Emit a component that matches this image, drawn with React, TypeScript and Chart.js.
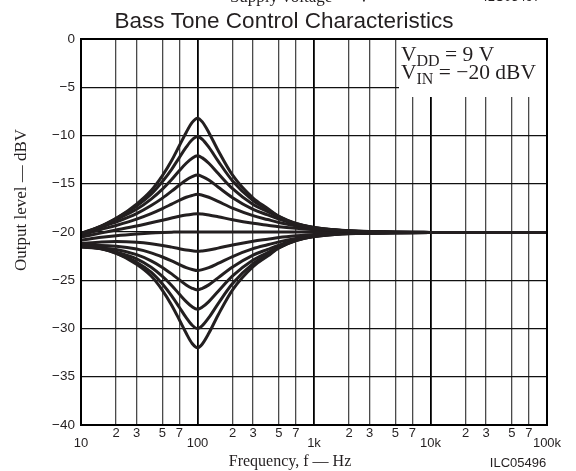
import React, { useEffect, useRef } from "react";
import { Chart, registerables } from "chart.js";

Chart.register(...registerables);

// ---- data ----
const frequencies = [10, 15, 20, 30, 40, 50, 60, 70, 80, 90, 100, 110, 125, 150, 200, 300, 400, 500, 700, 1000, 1500, 2000, 5000, 10000, 100000];

const boost12 = [-20.26, -19.39, -18.61, -17.11, -15.71, -14.16, -12.59, -11.03, -9.68, -8.64, -8.2, -8.59, -9.68, -11.53, -14.11, -16.48, -17.55, -18.4, -19.19, -19.61, -19.83, -19.93, -20.04, -20.05, -20.05];
const boost10 = [-20.19, -19.36, -18.58, -17.3, -16.07, -14.76, -13.5, -12.26, -11.21, -10.44, -10.1, -10.4, -11.21, -12.63, -14.71, -16.75, -17.67, -18.37, -19.11, -19.56, -19.8, -19.9, -20.03, -20.05, -20.05];
const boost8 = [-20.15, -19.38, -18.71, -17.65, -16.59, -15.56, -14.57, -13.63, -12.88, -12.35, -12.1, -12.32, -12.88, -13.92, -15.51, -17.14, -17.88, -18.45, -19.12, -19.54, -19.77, -19.88, -20.02, -20.04, -20.05];
const boost6 = [-20.2, -19.48, -18.96, -18.09, -17.26, -16.49, -15.77, -15.13, -14.61, -14.27, -14.1, -14.25, -14.61, -15.33, -16.44, -17.65, -18.23, -18.67, -19.19, -19.53, -19.77, -19.87, -20.01, -20.04, -20.05];
const boost4 = [-20.32, -19.73, -19.32, -18.67, -18.1, -17.58, -17.11, -16.71, -16.4, -16.21, -16.1, -16.19, -16.4, -16.83, -17.53, -18.31, -18.71, -19.01, -19.35, -19.64, -19.83, -19.91, -20.02, -20.04, -20.05];
const boost2 = [-20.53, -20.09, -19.8, -19.38, -19.04, -18.78, -18.55, -18.36, -18.23, -18.15, -18.1, -18.14, -18.23, -18.41, -18.73, -19.1, -19.3, -19.45, -19.62, -19.76, -19.87, -19.93, -20.02, -20.04, -20.05];
const flat = [-20.85, -20.55, -20.38, -20.2, -20.1, -20.05, -20.02, -20, -20, -20, -20, -20, -20, -20, -20, -20, -20, -20, -20, -20, -20.01, -20.02, -20.05, -20.05, -20.05];
const cut2 = [-21.19, -21.03, -20.99, -21.06, -21.21, -21.39, -21.57, -21.73, -21.87, -21.95, -22, -21.96, -21.87, -21.67, -21.34, -20.95, -20.74, -20.58, -20.4, -20.25, -20.16, -20.12, -20.08, -20.06, -20.05];
const cut4 = [-21.39, -21.39, -21.47, -21.77, -22.16, -22.59, -23.0, -23.38, -23.69, -23.89, -24, -23.9, -23.69, -23.26, -22.54, -21.73, -21.32, -21.02, -20.67, -20.37, -20.2, -20.13, -20.09, -20.06, -20.05];
const cut6 = [-21.51, -21.64, -21.82, -22.35, -22.99, -23.67, -24.34, -24.96, -25.48, -25.83, -26, -25.84, -25.48, -24.75, -23.62, -22.39, -21.8, -21.36, -20.83, -20.48, -20.26, -20.18, -20.09, -20.06, -20.05];
const cut8 = [-21.56, -21.73, -22.08, -22.78, -23.65, -24.6, -25.54, -26.45, -27.21, -27.75, -28, -27.78, -27.21, -26.16, -24.55, -22.9, -22.14, -21.57, -20.89, -20.47, -20.25, -20.16, -20.08, -20.06, -20.05];
const cut10 = [-21.52, -21.75, -22.2, -23.13, -24.17, -25.39, -26.61, -27.82, -28.88, -29.66, -30, -29.7, -28.88, -27.44, -25.34, -23.28, -22.35, -21.65, -20.9, -20.44, -20.22, -20.15, -20.07, -20.05, -20.05];
const cut12 = [-21.45, -21.73, -22.18, -23.34, -24.56, -26.04, -27.58, -29.12, -30.5, -31.56, -32, -31.6, -30.5, -28.62, -25.99, -23.58, -22.5, -21.63, -20.83, -20.4, -20.19, -20.12, -20.06, -20.05, -20.05];

const seriesList = [boost12, boost10, boost8, boost6, boost4, boost2, flat, cut2, cut4, cut6, cut8, cut10, cut12];
const seriesNames = ["+12", "+10", "+8", "+6", "+4", "+2", "0", "-2", "-4", "-6", "-8", "-10", "-12"];

const xTickValues = [10, 20, 30, 50, 70, 100, 200, 300, 500, 700, 1000, 2000, 3000, 5000, 7000, 10000, 20000, 30000, 50000, 70000, 100000];
const xTickLabels = ["10", "2", "3", "5", "7", "100", "2", "3", "5", "7", "1k", "2", "3", "5", "7", "10k", "2", "3", "5", "7", "100k"];
const decadeTicks = [10, 100, 1000, 10000, 100000];
const yTickValues = [-40, -35, -30, -25, -20, -15, -10, -5, 0];

const chartTitle = "Bass Tone Control Characteristics";
const xTitle = "Frequency, f \u2014 Hz";
const yTitle = "Output level \u2014 dBV";
const figureCode = "ILC05496";
const cutTopCaption = "Supply voltage \u2014 V";
const cutTopCode = "ILC05497";

const INK = "#231f20";
const SANS = '"Liberation Sans", Arial, sans-serif';
const SERIF = '"Liberation Serif", "Times New Roman", serif';

function drawSub(ctx: CanvasRenderingContext2D, main: string, sub: string, rest: string, x: number, y: number) {
  ctx.textAlign = "left";
  ctx.textBaseline = "alphabetic";
  ctx.font = `21.5px ${SERIF}`;
  ctx.fillText(main, x, y);
  x += ctx.measureText(main).width;
  ctx.font = `16px ${SERIF}`;
  ctx.fillText(sub, x, y + 5);
  x += ctx.measureText(sub).width;
  ctx.font = `21.5px ${SERIF}`;
  ctx.fillText(rest, x, y);
}

const decorPlugin = {
  id: "decor",
  beforeDatasetsDraw(chart: any) {
    const { ctx, chartArea: a } = chart;
    ctx.save();
    ctx.fillStyle = "#ffffff";
    ctx.fillRect(a.right - 148, a.top + 1, 147, 57);
    ctx.fillStyle = INK;
    drawSub(ctx, "V", "DD", " = 9 V", a.right - 146, a.top + 22);
    drawSub(ctx, "V", "IN", " = \u221220 dBV", a.right - 146, a.top + 40);
    ctx.restore();
  },
  afterDraw(chart: any) {
    const { ctx, chartArea: a } = chart;
    ctx.save();
    // plot frame
    ctx.strokeStyle = "#000";
    ctx.lineWidth = 2;
    ctx.strokeRect(a.left, a.top, a.right - a.left, a.bottom - a.top);
    ctx.fillStyle = INK;
    // title
    ctx.font = `22.5px ${SANS}`;
    ctx.textAlign = "center";
    ctx.textBaseline = "alphabetic";
    ctx.fillText(chartTitle, 284, 28);
    // cut-off caption from above
    ctx.font = `17px ${SERIF}`;
    ctx.fillText(cutTopCaption, 300, 2);
    ctx.font = `13px ${SANS}`;
    ctx.fillText(cutTopCode, 512, 1);
    // x title
    ctx.font = `16px ${SERIF}`;
    ctx.fillText(xTitle, 290, 466);
    // figure code
    ctx.font = `13px ${SANS}`;
    ctx.fillText(figureCode, 518, 467);
    // y title
    ctx.translate(22, 200);
    ctx.rotate(-Math.PI / 2);
    ctx.font = `17px ${SERIF}`;
    ctx.textBaseline = "middle";
    ctx.fillText(yTitle, 0, 0);
    ctx.restore();
  },
};

export default function App() {
  const ref = useRef<HTMLCanvasElement>(null);
  useEffect(() => {
    const canvas = ref.current!;
    const chart = new Chart(canvas, {
      type: "line",
      data: {
        datasets: seriesList.map((s, i) => ({
          label: seriesNames[i],
          data: frequencies.map((f, j) => ({ x: f, y: s[j] })),
          borderColor: INK,
          borderWidth: 3,
          pointRadius: 0,
          fill: false,
          cubicInterpolationMode: "monotone" as const,
          borderJoinStyle: "round" as const,
          borderCapStyle: "round" as const,
        })),
      },
      options: {
        responsive: false,
        animation: false,
        events: [],
        layout: { padding: { left: 0, top: 39, right: 29, bottom: 0 } },
        plugins: { legend: { display: false }, tooltip: { enabled: false }, title: { display: false } },
        scales: {
          x: {
            type: "logarithmic",
            min: 10,
            max: 100000,
            afterBuildTicks: (scale: any) => {
              scale.ticks = xTickValues.map((value) => ({ value }));
            },
            afterFit: (scale: any) => {
              scale.height = 46;
            },
            border: { display: false },
            grid: {
              drawTicks: false,
              color: (c: any) => (decadeTicks.includes(c.tick?.value) ? "#000" : "#4a4a4a"),
              lineWidth: (c: any) => (decadeTicks.includes(c.tick?.value) ? 1.8 : 1.3),
            },
            ticks: {
              autoSkip: false,
              maxRotation: 0,
              minRotation: 0,
              padding: 3,
              color: INK,
              font: { family: SANS, size: 13, lineHeight: 0.8 },
              callback: (_v: any, i: number) => (decadeTicks.includes(xTickValues[i]) ? ["", xTickLabels[i]] : xTickLabels[i]),
            },
          },
          y: {
            type: "linear",
            min: -40,
            max: 0,
            afterBuildTicks: (scale: any) => {
              scale.ticks = yTickValues.map((value) => ({ value }));
            },
            afterFit: (scale: any) => {
              scale.width = 81;
            },
            border: { display: false },
            grid: { drawTicks: false, color: "#111", lineWidth: 1.3 },
            ticks: {
              padding: 6,
              color: INK,
              font: { family: SANS, size: 13.5 },
              callback: (v: any) => (v === 0 ? "0" : "\u2212" + Math.abs(v)),
            },
          },
        },
      },
      plugins: [decorPlugin],
    });
    return () => chart.destroy();
  }, []);
  return (
    <div style={{ position: "fixed", left: 0, top: 0, width: 576, height: 471, background: "#fff" }}>
      <canvas ref={ref} width={576} height={471} style={{ display: "block" }} />
    </div>
  );
}
